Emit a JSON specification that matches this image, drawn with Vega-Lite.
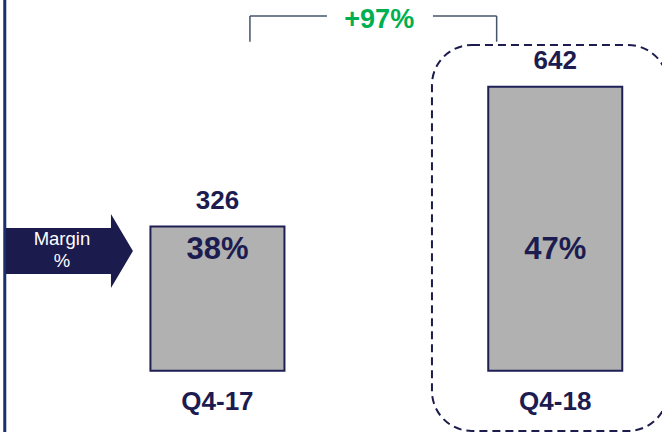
{
  "$schema": "https://vega.github.io/schema/vega-lite/v6.json",
  "width": 662,
  "height": 432,
  "autosize": {"type": "none"},
  "padding": 0,
  "background": "white",
  "config": {"view": {"stroke": null}, "font": "Liberation Sans"},
  "datasets": {
    "bars": [
      {"cat": "Q4-17", "value": 326, "margin": "38%"},
      {"cat": "Q4-18", "value": 642, "margin": "47%"}
    ],
    "a17": [{"cat": "Q4-17"}],
    "a18": [{"cat": "Q4-18", "label": "+97%"}]
  },
  "layer": [
    {
      "data": {"name": "bars"},
      "mark": {"type": "bar", "fill": "#b1b1b1", "stroke": "#1f1f55", "strokeWidth": 2},
      "encoding": {
        "x": {"field": "cat", "type": "nominal", "axis": null,
              "scale": {"domain": ["Q4-17", "Q4-18"], "paddingInner": 0.6033, "paddingOuter": 0.2815, "align": 0.791}},
        "y": {"field": "value", "type": "quantitative", "axis": null,
              "scale": {"domain": [-138.7, 838.5], "nice": false, "zero": false}}
      }
    },
    {
      "data": {"name": "a17"},
      "mark": {"type": "rule", "color": "#1b2f6e", "strokeWidth": 3},
      "encoding": {
        "x": {"field": "cat", "type": "nominal", "bandPosition": -1.087},
        "y": {"datum": 838.5, "type": "quantitative"},
        "y2": {"datum": -138.7}
      }
    },
    {
      "data": {"name": "a18"},
      "mark": {"type": "rect", "filled": false, "stroke": "#1c1c4e", "strokeWidth": 2, "strokeDash": [8, 5], "cornerRadius": 40},
      "encoding": {
        "x": {"field": "cat", "type": "nominal", "bandPosition": -0.42},
        "x2": {"field": "cat", "bandPosition": 1.341},
        "y": {"datum": 736.7, "type": "quantitative"},
        "y2": {"datum": -136.4}
      }
    },
    {
      "data": {"name": "a17"},
      "mark": {"type": "rule", "color": "#44546a", "strokeWidth": 1.5},
      "encoding": {
        "x": {"field": "cat", "type": "nominal", "bandPosition": 0.7425},
        "y": {"datum": 802.3, "type": "quantitative"},
        "y2": {"datum": 744.2}
      }
    },
    {
      "data": {"name": "a17"},
      "mark": {"type": "rule", "color": "#44546a", "strokeWidth": 1.5},
      "encoding": {
        "x": {"field": "cat", "type": "nominal", "bandPosition": 0.7425},
        "x2": {"field": "cat", "bandPosition": 1.317},
        "y": {"datum": 802.3, "type": "quantitative"}
      }
    },
    {
      "data": {"name": "a18"},
      "mark": {"type": "rule", "color": "#44546a", "strokeWidth": 1.5},
      "encoding": {
        "x": {"field": "cat", "type": "nominal", "bandPosition": 0.0627},
        "y": {"datum": 802.3, "type": "quantitative"},
        "y2": {"datum": 744.2}
      }
    },
    {
      "data": {"name": "a18"},
      "mark": {"type": "rule", "color": "#44546a", "strokeWidth": 1.5},
      "encoding": {
        "x": {"field": "cat", "type": "nominal", "bandPosition": -0.4127},
        "x2": {"field": "cat", "bandPosition": 0.0627},
        "y": {"datum": 802.3, "type": "quantitative"}
      }
    },
    {
      "data": {"name": "a18"},
      "mark": {"type": "text", "fontSize": 27, "fontWeight": "bold", "color": "#00b050", "baseline": "middle", "align": "center"},
      "encoding": {
        "x": {"field": "cat", "type": "nominal", "bandPosition": -0.8134},
        "y": {"datum": 792.6, "type": "quantitative"},
        "text": {"field": "label"}
      }
    },
    {
      "data": {"name": "bars"},
      "mark": {"type": "text", "fontSize": 26, "fontWeight": "bold", "color": "#1c1c50", "baseline": "middle", "align": "center", "dy": -25.5},
      "encoding": {
        "x": {"field": "cat", "type": "nominal"},
        "y": {"field": "value", "type": "quantitative"},
        "text": {"field": "value"}
      }
    },
    {
      "data": {"name": "bars"},
      "mark": {"type": "text", "fontSize": 31, "fontWeight": "bold", "color": "#1c1c50", "baseline": "middle", "align": "center"},
      "encoding": {
        "x": {"field": "cat", "type": "nominal"},
        "y": {"datum": 273, "type": "quantitative"},
        "text": {"field": "margin"}
      }
    },
    {
      "data": {"name": "bars"},
      "mark": {"type": "text", "fontSize": 26, "fontWeight": "bold", "color": "#1c1c50", "baseline": "middle", "align": "center"},
      "encoding": {
        "x": {"field": "cat", "type": "nominal"},
        "y": {"datum": -70.8, "type": "quantitative"},
        "text": {"field": "cat"}
      }
    },
    {
      "data": {"name": "a17"},
      "mark": {"type": "point", "filled": true, "color": "#1c1b4d", "opacity": 1, "strokeWidth": 0, "size": 16129,
               "shape": "M-1,-0.362L0.654,-0.362L0.654,-0.583L1,0L0.654,0.583L0.654,0.362L-1,0.362Z"},
      "encoding": {
        "x": {"field": "cat", "type": "nominal", "bandPosition": -0.6045},
        "y": {"datum": 270.8, "type": "quantitative"}
      }
    },
    {
      "data": {"name": "a17"},
      "mark": {"type": "text", "text": ["Margin", "%"], "fontSize": 18.5, "color": "white", "baseline": "middle", "align": "center", "lineHeight": 22},
      "encoding": {
        "x": {"field": "cat", "type": "nominal", "bandPosition": -0.6604},
        "y": {"datum": 297.9, "type": "quantitative"}
      }
    }
  ]
}
